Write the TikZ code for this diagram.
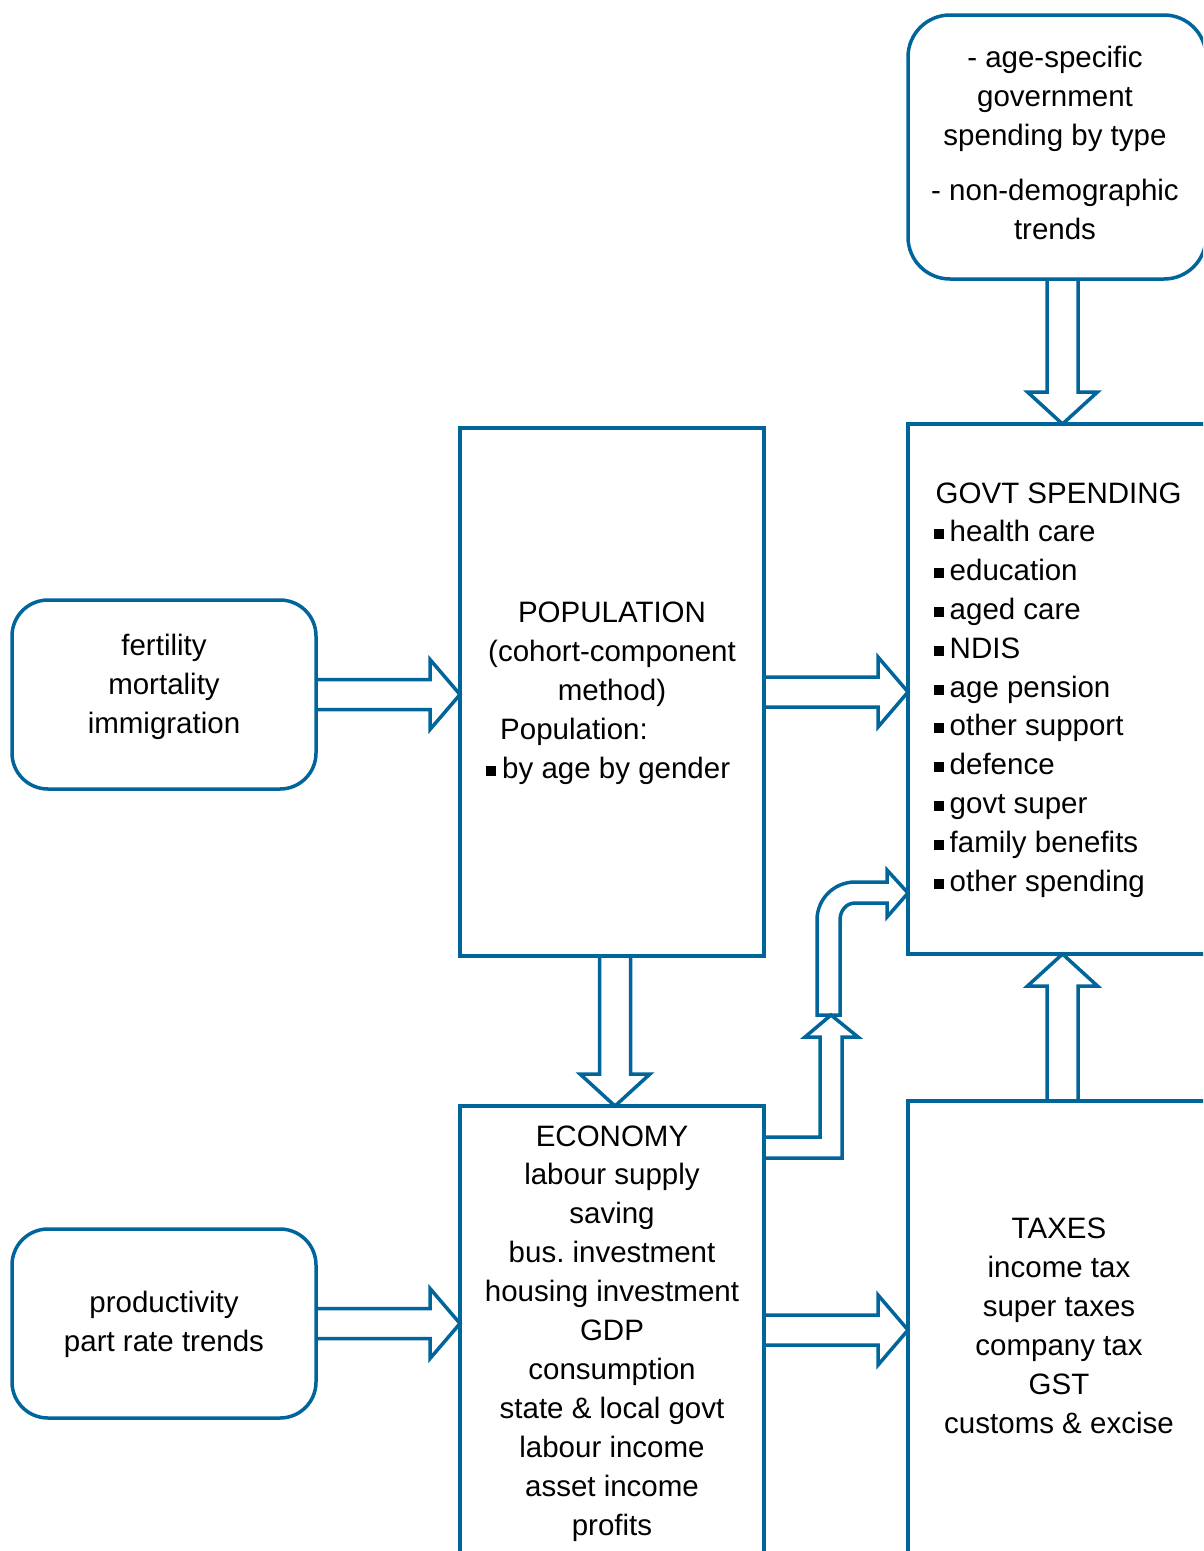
\documentclass[tikz,border=0pt]{standalone}
\usepackage{fontspec}
\setmainfont{Liberation Sans}
\usetikzlibrary{calc}
\definecolor{bl}{RGB}{0,101,155}
\frenchspacing
\newcommand\bul{\makebox[16pt][l]{\rule[2.5pt]{10pt}{10pt}}}
\newcommand\rarr[2]{\path[arr] let \p1=(#1), \p2=(#2) in (\x1,\y1+15) -- (\x2-30,\y1+15) -- (\x2-30,\y1+35) -- (\x2,\y1) -- (\x2-30,\y1-35) -- (\x2-30,\y1-15) -- (\x1,\y1-15);}
\newcommand\darr[2]{\path[arr] let \p1=(#1), \p2=(#2) in (\x1-15.5,\y1) -- (\x1-15.5,\y2+32) -- (\x1-35,\y2+32) -- (\x1,\y2) -- (\x1+35,\y2+32) -- (\x1+15.5,\y2+32) -- (\x1+15.5,\y1);}
\newcommand\uarr[2]{\path[arr] let \p1=(#1), \p2=(#2) in (\x1-15.5,\y1) -- (\x1-15.5,\y2-32) -- (\x1-35,\y2-32) -- (\x1,\y2) -- (\x1+35,\y2-32) -- (\x1+15.5,\y2-32) -- (\x1+15.5,\y1);}
\begin{document}
\begin{tikzpicture}[x=1pt,y=-1pt,
  box/.style={draw=bl, line width=3.5pt, fill=white, inner sep=0pt, outer sep=0pt},
  rbox/.style={box, rounded corners=36pt},
  arr/.style={draw=bl, line width=3.5pt, line join=miter, miter limit=10},
  txt/.style={anchor=base, inner sep=0pt, font=\fontsize{29.5}{39}\selectfont}]
\useasboundingbox (0,0) rectangle (1203,1551);
\clip (0,0) rectangle (1203,1551);
\fill[white] (0,0) rectangle (1203,1551);
% boxes
\node[rbox, rounded corners=42pt, minimum width=298, minimum height=264] (top) at (1057,147) {};
\node[box, minimum width=352, minimum height=530] (gov) at (1084,689) {};
\node[box, minimum width=304, minimum height=528] (pop) at (612,692) {};
\node[rbox, minimum width=304, minimum height=189] (fert) at (164,694.5) {};
\node[box, minimum width=304, minimum height=514] (econ) at (612,1363) {};
\node[rbox, minimum width=304, minimum height=189] (prod) at (164,1323.5) {};
\node[box, minimum width=352, minimum height=519] (taxes) at (1084,1360.5) {};
% arrows
\coordinate (a1) at ($(top.south)+(5.5,0)$);
\coordinate (a2) at ($(pop.south)+(3,0)$);
\coordinate (et) at (764,1330);
\rarr{fert.east}{pop.west |- fert.east}
\rarr{pop.east}{gov.west |- pop.east}
\rarr{prod.east}{econ.west |- prod.east}
\rarr{et}{taxes.west |- et}
\darr{a1}{a1 |- gov.north}
\darr{a2}{a2 |- econ.north}
\uarr{a1 |- taxes.north}{a1 |- gov.south}
% bent arrow from economy
\coordinate (b0) at (764,1148);
\coordinate (bt) at (831,1015);
\path[arr] let \p1=(b0), \p2=(bt) in (\x1,\y1+11) -- (\x2-11,\y1+11) -- (\x2-11,\y2-22) -- (\x2-26,\y2-22) -- (\x2,\y2) -- (\x2+27,\y2-22) -- (\x2+11,\y2-22) -- (\x2+11,\y1-10) -- (\x1,\y1-10);
% curved arrow into govt spending
\coordinate (cy) at (0,893);
\coordinate (ct) at (gov.west |- cy);
\path[arr] (817,1015) -- (817,920) .. controls (817,899) and (834,882) .. (855,882) -- (887,882) -- (887,870) -- (ct) -- (887,917) -- (887,903) -- (855,903) .. controls (846,903) and (840,911) .. (840,920) -- (840,1015) -- cycle;
% texts
\foreach \t [count=\i from 0] in {- age-specific,government,spending by type}
  \node[txt] (tp\i) at (1055,67+39*\i) {\t};
\foreach \t [count=\i from 0] in {- non-demographic,trends}
  \node[txt] (tq\i) at (1055,200+39*\i) {\t};
\node[txt, anchor=base west] (g0) at (935.5,503) {GOVT SPENDING};
\foreach \t [count=\i] in {health care,education,aged care,NDIS,age pension,other support,defence,govt super,family benefits,other spending}
  \node[txt, anchor=base west] (g\i) at (933.5,503+38.8*\i) {\bul\t};
\node[txt] (p0) at (612,622) {POPULATION};
\node[txt] (p1) at (612,661) {(cohort-component};
\node[txt] (p2) at (612,700) {method)};
\node[txt, anchor=base west] (p3) at (500,739) {Population:};
\node[txt, anchor=base west] (p4) at (486,778) {\bul by age by gender};
\foreach \t [count=\i from 0] in {fertility,mortality,immigration}
  \node[txt] (f\i) at (164,655+39*\i) {\t};
\foreach \t [count=\i from 0] in {productivity,part rate trends}
  \node[txt] (r\i) at (164,1312+39*\i) {\t};
\foreach \t [count=\i from 0] in {ECONOMY,labour supply,saving,bus. investment,housing investment,GDP,consumption,state \& local govt,labour income,asset income,profits}
  \node[txt] (e\i) at (612,1146+38.9*\i) {\t};
\foreach \t [count=\i from 0] in {TAXES,income tax,super taxes,company tax,GST,customs \& excise}
  \node[txt] (t\i) at (1059,1238+39*\i) {\t};
\end{tikzpicture}
\end{document}
